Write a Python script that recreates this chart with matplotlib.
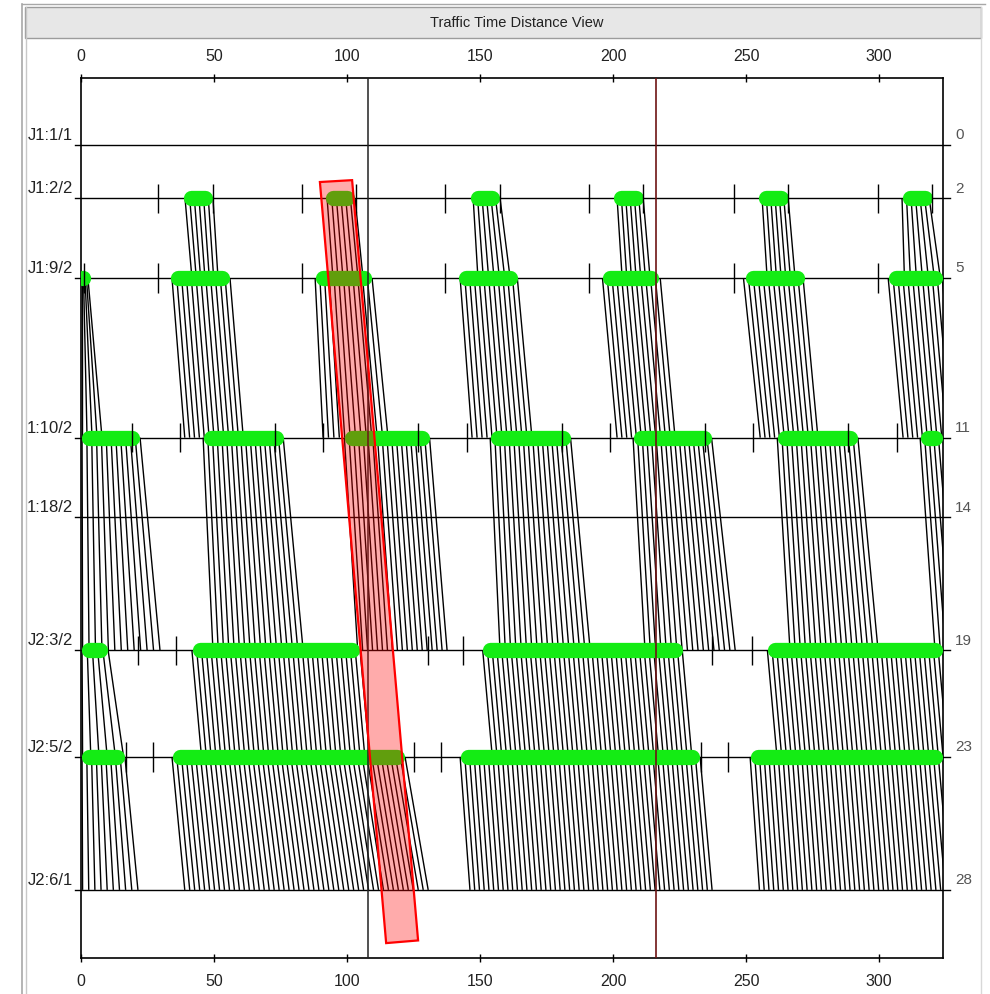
import numpy as np
import matplotlib.pyplot as plt
from matplotlib.collections import LineCollection
from matplotlib.patches import Rectangle, Polygon
from matplotlib.transforms import blended_transform_factory

plt.rcParams['font.family'] = ['Liberation Sans', 'DejaVu Sans']

# stations (distance) and their names
station_d = [0, 2, 5, 11, 14, 19, 23, 28]
station_names = ["J1:1/1", "J1:2/2", "J1:9/2", "1:10/2", "1:18/2", "J2:3/2", "J2:5/2", "J2:6/1"]
station_dist_labels = ["0", "2", "5", "11", "14", "19", "23", "28"]

# green bars (start, end) in time, per station
green_d2 = [(38.3, 49.6), (92, 103), (146.2, 157.5), (200, 211.3), (254.5, 265.8), (308.6, 320)]
green_d5 = [(0, 1.5), (33.5, 56), (88, 109.4), (141.7, 164), (196, 217), (249.6, 272), (303.4, 324)]
green_d11 = [(0, 22.2), (45.9, 76), (99, 131), (153.8, 184), (207.5, 237), (261.7, 292), (315.4, 324)]
green_d19 = [(0, 10.2), (41.7, 104.9), (151, 226), (258, 324)]
green_d23 = [(0, 16.5), (34.2, 121.8), (142.5, 232.7), (251.5, 324)]

# signal tick marks per station
ticks_d2 = [29, 49.6, 83, 103.4, 137, 157.5, 191, 211.3, 245.5, 265.8, 299.6, 320]
ticks_d5 = [1, 29, 83, 137, 191, 245.5, 299.6]
ticks_d11 = [19.2, 37.2, 73, 91, 126.7, 145, 180.8, 199, 234.6, 252.6, 288.3, 306.8]
ticks_d19 = [21.4, 35.7, 130.5, 143.6, 237.2, 252.3]
ticks_d23 = [17, 27.2, 125, 135.2, 233, 243.2]

# platoons: (first/last time at upper station, first/last time at lower station, vehicles)
seg_2_5 = [(39.1, 49.6, 41.7, 51.5, 7), (92.5, 103, 94.7, 106, 7), (147.4, 157.5, 149.2, 161.3, 7),
           (201.5, 211.3, 203.4, 213.9, 7), (256, 265.8, 257.9, 268.4, 7), (308.6, 318.8, 309.5, 323, 7)]
seg_5_11 = [(0.4, 2.6, 0.4, 7.9, 5), (34.2, 56, 39, 61, 13), (88, 109.4, 91, 115.4, 13),
            (142.5, 164, 147, 169.5, 13), (196, 217.7, 201.5, 223.3, 13), (249, 271.4, 255.3, 277, 13),
            (303.4, 323.7, 309, 329, 12)]
seg_11_19 = [(0.4, 22.2, 0.6, 29.7, 13), (45.9, 76, 49.6, 83.5, 18), (99, 131, 104, 137.6, 19),
             (153.8, 184, 157.5, 191.4, 18), (207.5, 237, 212, 245.9, 18), (261.7, 292, 266.5, 299.6, 18),
             (315.4, 324, 321, 331, 6)]
seg_19_23 = [(0.4, 10.2, 0.6, 16, 6), (41.7, 104.9, 45.3, 108.5, 36), (151, 226, 154.6, 229.6, 43),
             (258, 324, 261.6, 327.6, 38)]
seg_23_28 = [(0.4, 16.5, 0.6, 21.4, 10), (34.2, 121.8, 39, 130.5, 50), (142.5, 232.7, 146.2, 237.2, 52),
             (251.5, 324, 255, 328.5, 42)]

# marker lines and highlighted band
marker_times = [108, 216]
band_t = [89.8, 101.9, 126.7, 114.7]
band_d = [1.39, 1.32, 29.9, 30.0]

W, H = 990, 995
fig = plt.figure(figsize=(W / 100, H / 100), dpi=100)
fig.patch.set_facecolor('white')


def fx(px):
    return px / W


def fy(py):
    return 1 - py / H


# window chrome
fig.add_artist(Rectangle((fx(25), fy(39)), fx(981) - fx(25), fy(8) - fy(39),
                         transform=fig.transFigure, facecolor='#e7e7e7', edgecolor='#9c9c9c', lw=1))
fig.add_artist(plt.Line2D([fx(22), fx(22)], [fy(5), 0], transform=fig.transFigure, color='#a8a8a8', lw=1.2))
fig.add_artist(plt.Line2D([fx(26), fx(26)], [fy(8), 0], transform=fig.transFigure, color='#c8c8c8', lw=1))
fig.add_artist(plt.Line2D([fx(22), fx(985)], [fy(5), fy(5)], transform=fig.transFigure, color='#a8a8a8', lw=1))
fig.add_artist(plt.Line2D([fx(981), fx(981)], [fy(8), 0], transform=fig.transFigure, color='#d8d8d8', lw=1))
fig.text(fx(517), fy(23), "Traffic Time Distance View", ha='center', va='center', fontsize=10.5, color='#222222')

ax = fig.add_axes([fx(81), fy(959), fx(943) - fx(81), fy(79) - fy(959)])
ax.set_xlim(0, 324)
ax.set_ylim(30.56, -2.52)
ax.set_yticks([])
ax.set_xticks([0, 50, 100, 150, 200, 250, 300])
ax.tick_params(axis='x', top=True, labeltop=True, bottom=True, labelbottom=True,
               direction='inout', length=6, width=1, pad=8, labelsize=11.5, labelcolor='#222222')
for s in ax.spines.values():
    s.set_linewidth(1.2)
    s.set_color('black')

# station lines
for d in station_d:
    ax.plot([-2.2, 326.5], [d, d], color='black', lw=1, clip_on=False, zorder=2)

# trajectories
segments = [(2, 5, seg_2_5), (5, 11, seg_5_11), (11, 19, seg_11_19), (19, 23, seg_19_23), (23, 28, seg_23_28)]
lines = []
for d_top, d_bot, groups in segments:
    for a, b, c, e, n in groups:
        for t0, t1 in zip(np.linspace(a, b, n), np.linspace(c, e, n)):
            lines.append([(t0, d_top), (t1, d_bot)])
ax.add_collection(LineCollection(lines, colors='black', linewidths=1.0, zorder=3))

# green bars with rounded ends (cap radius converted to time units)
green_lw = 11
px_per_t = (943 - 81) / 324
cap = green_lw / 2 * 100 / 72 / px_per_t
greens = [(2, green_d2), (5, green_d5), (11, green_d11), (19, green_d19), (23, green_d23)]
for d, bars in greens:
    for t0, t1 in bars:
        a, b = t0 + cap, t1 - cap
        if b <= a:
            ax.plot([(t0 + t1) / 2], [d], 'o', color='#14ec14', ms=green_lw, mew=0, zorder=4)
        else:
            ax.plot([a, b], [d, d], color='#14ec14', lw=green_lw, solid_capstyle='round', zorder=4)

# signal ticks
ticks = [(2, ticks_d2), (5, ticks_d5), (11, ticks_d11), (19, ticks_d19), (23, ticks_d23)]
for d, ts in ticks:
    ax.vlines(ts, d - 0.55, d + 0.55, color='black', lw=1, zorder=5)

# vertical marker lines
ax.axvline(marker_times[0], color='#222222', lw=1.1, zorder=5)
ax.axvline(marker_times[1], color='#6e1414', lw=1.2, zorder=5)

# highlighted band
ax.add_patch(Polygon(list(zip(band_t, band_d)), closed=True, facecolor=(1, 0, 0, 0.33),
                     edgecolor='#ff0000', lw=1.6, zorder=6, clip_on=False))

# station labels
tl = blended_transform_factory(fig.transFigure, ax.transData)
for d, name, lab in zip(station_d, station_names, station_dist_labels):
    ax.text(fx(73), d - 0.4, name, transform=tl, ha='right', va='center', fontsize=12, color='#222222')
    ax.text(fx(955), d - 0.4, lab, transform=tl, ha='left', va='center', fontsize=11, color='#555555')

fig.savefig("out.png", dpi=100)
